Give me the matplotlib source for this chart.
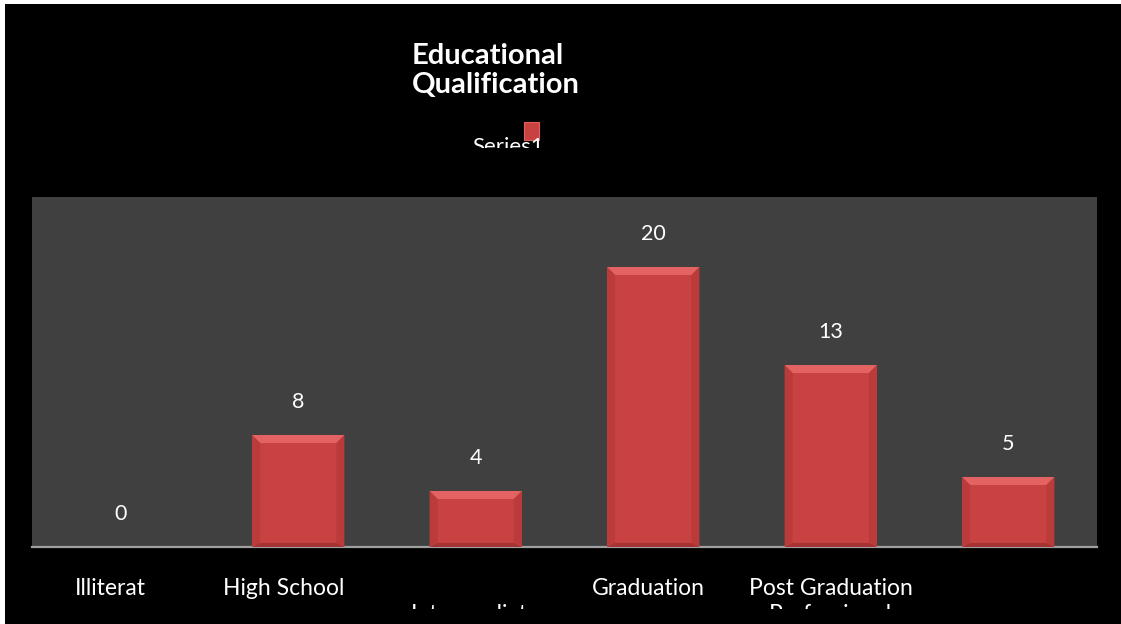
import matplotlib
matplotlib.use("Agg")
import matplotlib.pyplot as plt
import matplotlib.transforms as mtransforms
from matplotlib.patches import Rectangle, Polygon

first_line = ["Illiterat", "High School", "", "Graduation", "Post Graduation", ""]
second_line = ["", "", "Intermediate", "", "Professional", ""]
values = [0, 8, 4, 20, 13, 5]
series_name = "Series1"
title = "Educational\nQualification"

W, H = 1121, 624
plt.rcParams['font.family'] = ['Lato', 'DejaVu Sans']

fig = plt.figure(figsize=(W / 100, H / 100), dpi=100, facecolor="black",
                 edgecolor="black")
ax = fig.add_axes([32 / W, (H - 547) / H, (1097 - 32) / W, (547 - 197) / H])
ax.set_facecolor("#404040")

x = list(range(len(values)))
bars = ax.bar(x, values, width=0.52, color="#c94242", edgecolor="none", zorder=2)
ax.set_xlim(-0.5, len(values) - 0.5)
ax.set_ylim(0, 25)
for s in ["top", "left", "right"]:
    ax.spines[s].set_visible(False)
ax.spines["bottom"].set_color("#a0a0a0")
ax.spines["bottom"].set_linewidth(1.6)
ax.set_xticks([])
ax.set_yticks([])

for xi, v in zip(x, values):
    ax.annotate(str(v), (xi, v), xytext=(0, 24), textcoords="offset points",
                ha="center", va="center", color="white", fontsize=15.5)

# category labels, the second row gets cut off by the clip box
clip = mtransforms.TransformedBbox(
    mtransforms.Bbox.from_extents(0, 15 / H, 1, 1), fig.transFigure)
lab_tr = mtransforms.blended_transform_factory(ax.transData, fig.transFigure)
shift = [-0.06, -0.08, 0, -0.03, 0, 0]
for xi, t1, t2, dx in zip(x, first_line, second_line, shift):
    if t1:
        ax.text(xi + dx, (H - 595) / H, t1, transform=lab_tr, ha="center",
                va="baseline", color="white", fontsize=16.5, clip_on=False)
    if t2:
        t = ax.text(xi + dx, (H - 621) / H, t2, transform=lab_tr, ha="center",
                    va="baseline", color="white", fontsize=16.5)
        t.set_clip_on(True)
        t.set_clip_box(clip)

# title
fig.text(412 / W, (H - 93) / H, title, ha="left", va="baseline",
         color="white", fontsize=21, fontweight="bold", linespacing=1.12)

# legend entry, text cut off below by its clip box
leg_clip = mtransforms.TransformedBbox(
    mtransforms.Bbox.from_extents(0, (H - 148) / H, 1, 1), fig.transFigure)
lt = fig.text(508 / W, (H - 137) / H, series_name, ha="center", va="top",
              color="white", fontsize=16)
lt.set_clip_on(True)
lt.set_clip_box(leg_clip)
fig.patches.append(Rectangle((524 / W, (H - 140) / H), 15 / W, 18 / H,
                             transform=fig.transFigure, facecolor="#c94242",
                             edgecolor="#e36060", linewidth=0.8, zorder=3))

# white frame strips on the top and left edges
fig.patches.append(Rectangle((0, (H - 4) / H), 1, 4 / H, transform=fig.transFigure,
                             facecolor="white", edgecolor="none", zorder=5))
fig.patches.append(Rectangle((0, 0), 5 / W, 1, transform=fig.transFigure,
                             facecolor="white", edgecolor="none", zorder=5))

# bevel shading on the bars
fig.canvas.draw()
ident = mtransforms.IdentityTransform()
b, bb = 8, 4
for bar in bars:
    if bar.get_height() <= 0:
        continue
    e = bar.get_window_extent()
    x0, x1, y0, y1 = e.x0, e.x1, e.y0, e.y1
    shapes = [
        ([(x0, y1), (x1, y1), (x1 - b, y1 - b), (x0 + b, y1 - b)], "#e36262"),
        ([(x0, y1), (x0 + b, y1 - b), (x0 + b, y0 + bb), (x0, y0)], "#bb3b3b"),
        ([(x1, y1), (x1 - b, y1 - b), (x1 - b, y0 + bb), (x1, y0)], "#bb3b3b"),
        ([(x0, y0), (x0 + b, y0 + bb), (x1 - b, y0 + bb), (x1, y0)], "#a53333"),
    ]
    for pts, c in shapes:
        fig.patches.append(Polygon(pts, closed=True, transform=ident,
                                   facecolor=c, edgecolor="none", zorder=3))

fig.savefig("out.png", dpi=100, facecolor="black", edgecolor="black")
